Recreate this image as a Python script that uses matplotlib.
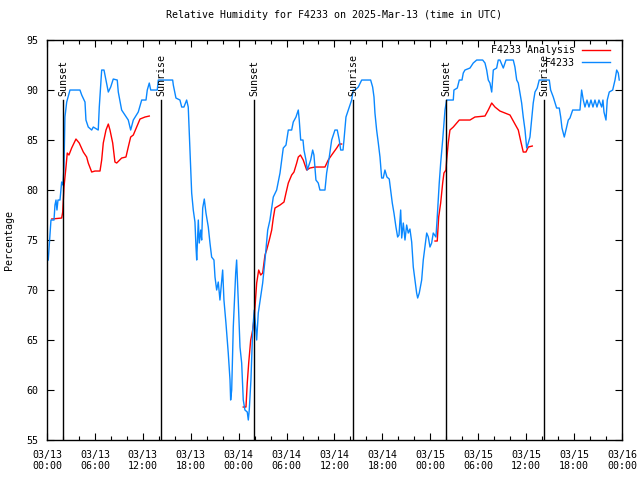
import numpy as np
import pandas as pd
import matplotlib
matplotlib.use("Agg")
import matplotlib.pyplot as plt
import matplotlib.dates as mdates

# hours since 2025-03-13 00:00 UTC
obs_hours = [0.16, 0.38, 0.5, 0.88, 1.0, 1.13, 1.25, 1.38, 1.63, 1.84, 2.0, 2.13, 2.25, 2.47, 2.88,
             4.13, 4.35, 4.76, 4.88, 5.17, 5.6, 5.8, 6.42, 6.55, 6.85, 7.14, 7.39, 7.68, 7.98, 8.3,
             8.8, 8.93, 9.35, 9.77, 10.18, 10.48, 10.81, 11.43, 11.86, 12.4, 12.56, 12.81, 12.99,
             13.81, 13.94, 15.74, 15.82, 16.15, 16.65, 16.87, 17.15, 17.49, 17.69, 17.91, 18.12,
             18.32, 18.53, 18.66, 18.75, 18.95, 19.07, 19.25, 19.37, 19.5, 19.7, 19.91, 20.2, 20.41,
             20.62, 20.91, 21.04, 21.25, 21.45, 21.66, 22.0, 22.16, 22.41, 22.7, 22.92, 23.0, 23.13,
             23.33, 23.63, 23.75, 23.95, 24.17, 24.38, 24.58, 24.79, 25.08, 25.21, 25.33, 25.54,
             25.76, 25.96, 26.26, 26.46, 26.76, 27.01, 27.3, 27.64, 27.92, 28.34, 28.76, 29.18,
             29.39, 29.59, 29.93, 30.22, 30.64, 30.84, 31.18, 31.47, 31.59, 31.77, 32.06, 32.18,
             32.43, 32.6, 32.81, 33.02, 33.27, 33.43, 33.68, 33.97, 34.18, 34.81, 35.02, 35.35,
             35.65, 36.06, 36.35, 36.6, 36.78, 37.07, 37.19, 37.44, 37.73, 38.15, 38.35, 38.57,
             38.98, 39.41, 40.53, 40.78, 40.95, 41.07, 41.28, 41.49, 41.7, 41.91, 42.11, 42.32,
             42.57, 42.86, 43.04, 43.24, 43.45, 43.7, 43.91, 44.08, 44.29, 44.42, 44.62, 44.83,
             45.04, 45.24, 45.45, 45.67, 45.87, 46.08, 46.29, 46.42, 46.62, 46.92, 47.12, 47.33,
             47.55, 47.75, 47.96, 48.17, 48.37, 48.71, 48.87, 49.12, 49.3, 49.55, 49.84, 50.05,
             50.59, 50.88, 50.96, 51.38, 51.63, 51.97, 52.13, 52.34, 52.97, 53.38, 53.81, 54.56,
             54.85, 55.06, 55.26, 55.47, 55.69, 55.89, 56.31, 56.51, 56.72, 57.14, 57.48, 58.39,
             58.6, 58.82, 59.02, 59.23, 59.44, 59.64, 59.86, 60.07, 60.27, 60.48, 60.69, 60.89,
             61.11, 61.39, 61.64, 62.9, 63.07, 63.4, 63.82, 64.15, 64.33, 64.49, 64.78, 64.99,
             65.28, 65.49, 65.83, 66.74, 66.95, 67.16, 67.37, 67.62, 67.87, 68.12, 68.37, 68.62,
             68.87, 69.12, 69.46, 69.62, 69.75, 70.0, 70.16, 70.41, 70.84, 71.13, 71.34, 71.54, 71.66]
obs_rh = [73, 75.5, 77, 77, 78.5, 79, 78, 79, 79, 80.8, 80.5, 82.3, 87.3, 88.8, 90,
          90, 89.5, 88.8, 87, 86.3, 86, 86.3, 86, 88.3, 92, 92, 91, 89.8, 90.3, 91.1,
          91, 89.8, 88, 87.5, 87, 86, 87, 87.8, 89, 89, 90, 90.7, 90,
          90, 91, 91, 90.5, 89.2, 89, 88.3, 88.3, 89, 88.3, 84, 79.7,
          78, 76.8, 74.3, 73, 77, 74.7, 76, 75, 78.2, 79.1, 77.7, 76.3, 74.7,
          73.3, 73, 71.3, 70, 70.8, 69, 72, 69, 66.7, 63.7, 61, 59, 60,
          66.3, 71.7, 73, 69, 64.3, 62.7, 59, 58, 57.8, 57, 58, 61,
          66, 68, 65, 67.7, 69.3, 70.7, 73, 76, 77, 79.3, 80, 81.7,
          83, 84.2, 84.5, 86, 86, 86.8, 87.3, 88, 87, 85, 85, 84,
          83, 82, 82.5, 83, 84, 83.5, 81, 80.7, 80, 80, 81.7, 83.3,
          85, 86, 86, 85, 84, 84, 85, 87.3, 88, 89, 90, 90,
          90.3, 91, 91, 90.3, 89.3, 87.7, 86, 84.7, 83.3, 81.2, 81.2, 82,
          81.3, 81.1, 80, 78.7, 77.7, 76.3, 75.3, 75.5, 78, 75.2, 76.7, 75,
          76.5, 75.7, 76.1, 74.8, 72.3, 71, 69.7, 69.2, 69.7, 71, 73, 74.3,
          75.7, 75.3, 74.3, 74.7, 75.7, 75.3, 77.3, 80.7, 82.7, 85, 88, 89,
          89, 89, 90, 90.2, 91, 91, 91.7, 92, 92.2, 92.7, 93, 93,
          92.7, 92, 91, 90.7, 89.8, 92, 92.2, 93, 93, 92.2, 93, 93,
          92.3, 91, 90.7, 89.7, 88.7, 87.3, 86, 84.2, 84.7, 85.3, 87, 88.7,
          89.8, 90.2, 91, 91, 90, 89.3, 88.2, 88.2, 87.3, 86.2, 85.3, 86,
          87, 87.2, 88, 88, 90, 89, 88.3, 89, 88.3, 89, 88.3, 89,
          88.3, 89, 88.3, 89, 87.8, 87, 89, 89.8, 90, 91, 92, 91.7, 91]

# analysis: three windows, NaN breaks the line between them
ana_hours = [0.59, 1.84, 1.97, 2.13, 2.38, 2.54, 2.75, 3.09, 3.63, 4.04, 4.55, 4.97, 5.17, 5.6,
             6.01, 6.64, 6.85, 7.05, 7.39, 7.68, 7.89, 8.23, 8.51, 8.73, 9.35, 9.89, 10.18,
             10.48, 10.81, 11.23, 11.65, 12.27, 12.81, 13.0,
             24.58, 24.92, 25.08, 25.26, 25.51, 25.76, 25.96, 26.26, 26.51, 26.76, 27.01, 27.3,
             27.51, 27.84, 28.14, 28.34, 28.55, 29.18, 29.68, 29.93, 30.22, 30.64, 30.93, 31.27,
             31.47, 31.74, 32.09, 32.52, 32.93, 33.56, 34.81, 35.22, 35.65, 36.28, 36.6, 36.9, 37.0,
             48.59, 48.87, 49.05, 49.3, 49.55, 49.71, 49.96, 50.05, 50.25, 50.46, 50.88, 51.63,
             52.97, 53.59, 54.85, 55.26, 55.69, 56.1, 56.72, 57.98, 58.6, 59.02, 59.32, 59.64,
             59.98, 60.27, 60.77]
ana_rh = [77.1, 77.2, 77.8, 80.3, 82.3, 83.7, 83.5, 84.2, 85.1, 84.7, 83.8, 83.3, 82.7, 81.8,
          81.9, 81.9, 83, 84.7, 86, 86.6, 86, 84.7, 82.8, 82.7, 83.2, 83.3, 84.3,
          85.3, 85.5, 86.3, 87.1, 87.3, 87.4, np.nan,
          58.3, 58.3, 60.7, 62.7, 65, 66, 67.3, 70.7, 72, 71.5, 71.7, 73.5,
          74, 75, 76, 77.2, 78.2, 78.5, 78.8, 79.7, 80.7, 81.5, 81.8, 82.7,
          83.3, 83.5, 83, 82, 82.2, 82.3, 82.3, 83, 83.5, 84.2, 84.6, 84.6, np.nan,
          74.9, 74.9, 77.3, 78.7, 80.7, 81.7, 82, 83, 84.7, 86, 86.3, 87,
          87, 87.3, 87.4, 88, 88.7, 88.3, 87.9, 87.5, 86.6, 86, 84.9, 83.8,
          83.8, 84.3, 84.4]

sun_hours = [2.05, 14.34, 25.98, 38.36, 49.97, 62.27]
sun_labels = ["Sunset", "Sunrise", "Sunset", "Sunrise", "Sunset", "Sunrise"]

base = pd.Timestamp("2025-03-13 00:00")
obs_t = base + pd.to_timedelta(obs_hours, unit="h")
ana_t = base + pd.to_timedelta(ana_hours, unit="h")
sun_t = base + pd.to_timedelta(sun_hours, unit="h")

plt.rcParams['font.family'] = ['DejaVu Sans Mono', 'DejaVu Sans']
plt.rcParams['font.size'] = 7.2

fig = plt.figure(figsize=(6.4, 4.8), dpi=100)
ax = fig.add_axes([0.0734, 0.0833, 0.8984, 0.8333])

ax.plot(ana_t, ana_rh, color='#ff0000', lw=1.0, label='F4233 Analysis')
ax.plot(obs_t, obs_rh, color='#0a88ff', lw=1.0, label='F4233')

for t, lab in zip(sun_t, sun_labels):
    ax.plot([t, t], [55, 89], color='black', lw=1.0)
    ax.text(t, 89.4, lab, rotation=90, ha='center', va='bottom')

ax.set_xlim(base, base + pd.Timedelta(hours=72))
ax.set_ylim(55, 95)
ax.set_yticks(np.arange(55, 96, 5))
ax.xaxis.set_major_locator(mdates.HourLocator(byhour=[0, 6, 12, 18]))
ax.xaxis.set_minor_locator(mdates.HourLocator(interval=2))
ax.xaxis.set_major_formatter(mdates.DateFormatter('%m/%d\n%H:%M'))
ax.tick_params(which='both', direction='in', top=True, right=True)
ax.tick_params(which='major', length=5, width=0.8)
ax.tick_params(which='minor', length=3, width=0.8)
ax.tick_params(axis='x', pad=7)
ax.tick_params(axis='y', pad=6)
for s in ax.spines.values():
    s.set_linewidth(1.0)

ax.set_ylabel('Percentage', labelpad=9)
ax.set_title('Relative Humidity for F4233 on 2025-Mar-13 (time in UTC)', fontsize=7.2, pad=16)
ax.legend(loc='upper right', bbox_to_anchor=(0.993, 1.0075), frameon=False, markerfirst=False,
          handlelength=2.8, handletextpad=0.7, borderaxespad=0.6, borderpad=0.2, labelspacing=0.25)

fig.savefig('out.png', dpi=100)
